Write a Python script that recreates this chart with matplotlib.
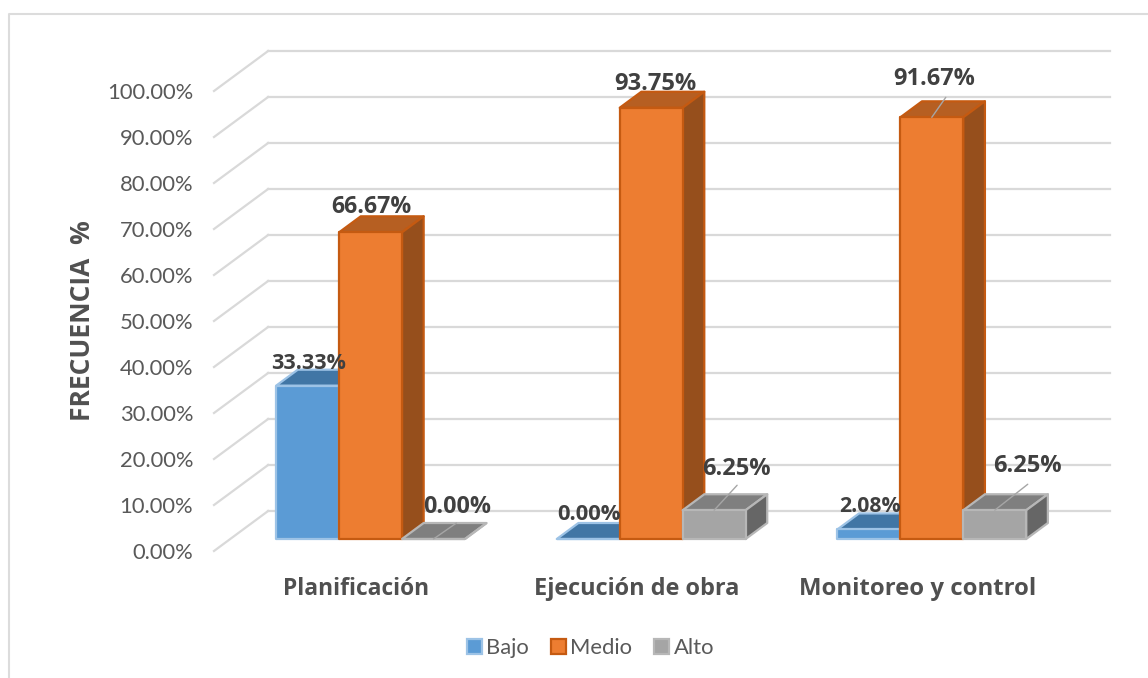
import matplotlib
matplotlib.use("Agg")
import matplotlib.pyplot as plt
from matplotlib.patches import Polygon, Patch
import numpy as np

plt.rcParams['font.family'] = ['Lato', 'DejaVu Sans']
BOLD = ['Open Sans', 'DejaVu Sans']

categories = ['Planificación', 'Ejecución de obra', 'Monitoreo y control']
series = ['Bajo', 'Medio', 'Alto']
bajo = [33.33, 0.00, 2.08]
medio = [66.67, 93.75, 91.67]
alto = [0.00, 6.25, 6.25]
yticks = np.arange(0, 101, 10)

W, H = 1148, 678
# colours per series: front, edge, top, side
front = ['#5B9BD5', '#ED7D31', '#A5A5A5']
edge = ['#9DC3E6', '#C55A11', '#B7B7B7']
top = ['#4176A5', '#B65F22', '#7F7F7F']
side = ['#41719C', '#964F1C', '#666666']

fig = plt.figure(figsize=(W / 100, H / 100), dpi=100, facecolor='white')

# frame round the chart, only left and top are drawn
fig.add_artist(plt.Line2D([9 / W, 9 / W, 1],
                          [0, 1 - 14 / H, 1 - 14 / H], color='#DCDCDC', lw=1.5))

# axes cover the floor from the front left corner to the back right corner
ax = fig.add_axes([214 / W, 1 - 551 / H, (1110 - 214) / W, 500 / H])
dx_full = 54 / 280      # oblique shift of the whole depth, in category units
dy_full = 40 / 4.6      # same, in percent units
ax.set_xlim(-0.5, 2.5 + dx_full)
ax.set_ylim(0, 100 + dy_full)
ax.patch.set_alpha(0)
for s in ax.spines.values():
    s.set_visible(False)
ax.set_xticks([])
ax.set_yticks(yticks)
ax.set_yticklabels(['%.2f%%' % v for v in yticks], fontsize=15.8, color='#595959')
ax.tick_params(axis='y', length=0, pad=15)


def skew(x, v, d):
    return (x + dx_full * d, v + dy_full * d)


# back wall and left wall gridlines
for v in yticks:
    ax.plot([-0.5 + dx_full, 2.5 + dx_full], [v + dy_full, v + dy_full],
            color='#D9D9D9', lw=1.6, zorder=1, clip_on=False)
    ax.plot([-0.5, -0.5 + dx_full], [v, v + dy_full],
            color='#D9D9D9', lw=1.6, zorder=1, clip_on=False)

bw = 62.8 / 280
d0, d1 = 0.3, 0.7
values = [bajo, medio, alto]


def draw_bar(x0, v, k, z):
    x1 = x0 + bw
    faces = [
        ([skew(x0, v, d0), skew(x1, v, d0), skew(x1, v, d1), skew(x0, v, d1)], top[k]),
        ([skew(x1, 0, d0), skew(x1, v, d0), skew(x1, v, d1), skew(x1, 0, d1)], side[k]),
        ([skew(x0, 0, d0), skew(x1, 0, d0), skew(x1, v, d0), skew(x0, v, d0)], front[k]),
    ]
    for pts, col in faces:
        ax.add_patch(Polygon(pts, closed=True, facecolor=col, edgecolor=edge[k],
                             lw=1.6, joinstyle='round', zorder=z))


for i in range(len(categories)):
    for k in range(len(series)):
        draw_bar(i + (k - 1.5) * bw, values[k][i], k, 3 + k)

# label shift from the top centre of each bar's front face, in pixels
label_shift = [[(1, 22), (1, 25), (24, 32)],
               [(1, 25), (4, 24), (22, 41)],
               [(1, 23), (2, 38), (33, 44)]]
label_size = [[15.5, 16.7, 16.8], [15.8, 17.1, 17], [15.3, 16.9, 17]]
# leader lines: end of the line relative to the same point
leader = {(0, 2): (23, 16), (1, 2): (23, 25), (2, 1): (14, 20), (2, 2): (33, 26)}

for i in range(len(categories)):
    for k in range(len(series)):
        x, y = skew(i + (k - 1) * bw, values[k][i], d0)
        ax.annotate('%.2f%%' % values[k][i], (x, y), xytext=label_shift[i][k],
                    textcoords='offset pixels', ha='center', va='center',
                    family=BOLD, fontsize=label_size[i][k], fontweight='bold',
                    color='#404040', zorder=10, annotation_clip=False)
        if (i, k) in leader:
            ax.annotate('', (x, y), xytext=leader[(i, k)], textcoords='offset pixels',
                        arrowprops=dict(arrowstyle='-', color='#A6A6A6', lw=1,
                                        shrinkA=0, shrinkB=0), zorder=9)

# category names under the floor
cat_size = [16.4, 16.9, 17.2]
for i, name in enumerate(categories):
    ax.annotate(name, (i, 0), xytext=(2, -38), textcoords='offset pixels',
                ha='center', va='center', family=BOLD, fontsize=cat_size[i], fontweight='bold',
                color='#505050', annotation_clip=False)

fig.text(82 / W, 1 - 321 / H, 'FRECUENCIA  %', rotation=90, ha='center', va='center',
         family=BOLD, fontsize=19, fontweight='bold', color='#505050')

handles = [Patch(facecolor=front[k], edgecolor=edge[k], lw=1.6, label=series[k])
           for k in range(3)]
fig.legend(handles=handles, loc='center', bbox_to_anchor=(590.5 / W, 1 - 648 / H), ncol=3,
           frameon=False, fontsize=15.8, handlelength=0.68, handleheight=0.68,
           handletextpad=0.2, columnspacing=1.0, labelcolor='#595959')

fig.savefig('out.png', dpi=100)
